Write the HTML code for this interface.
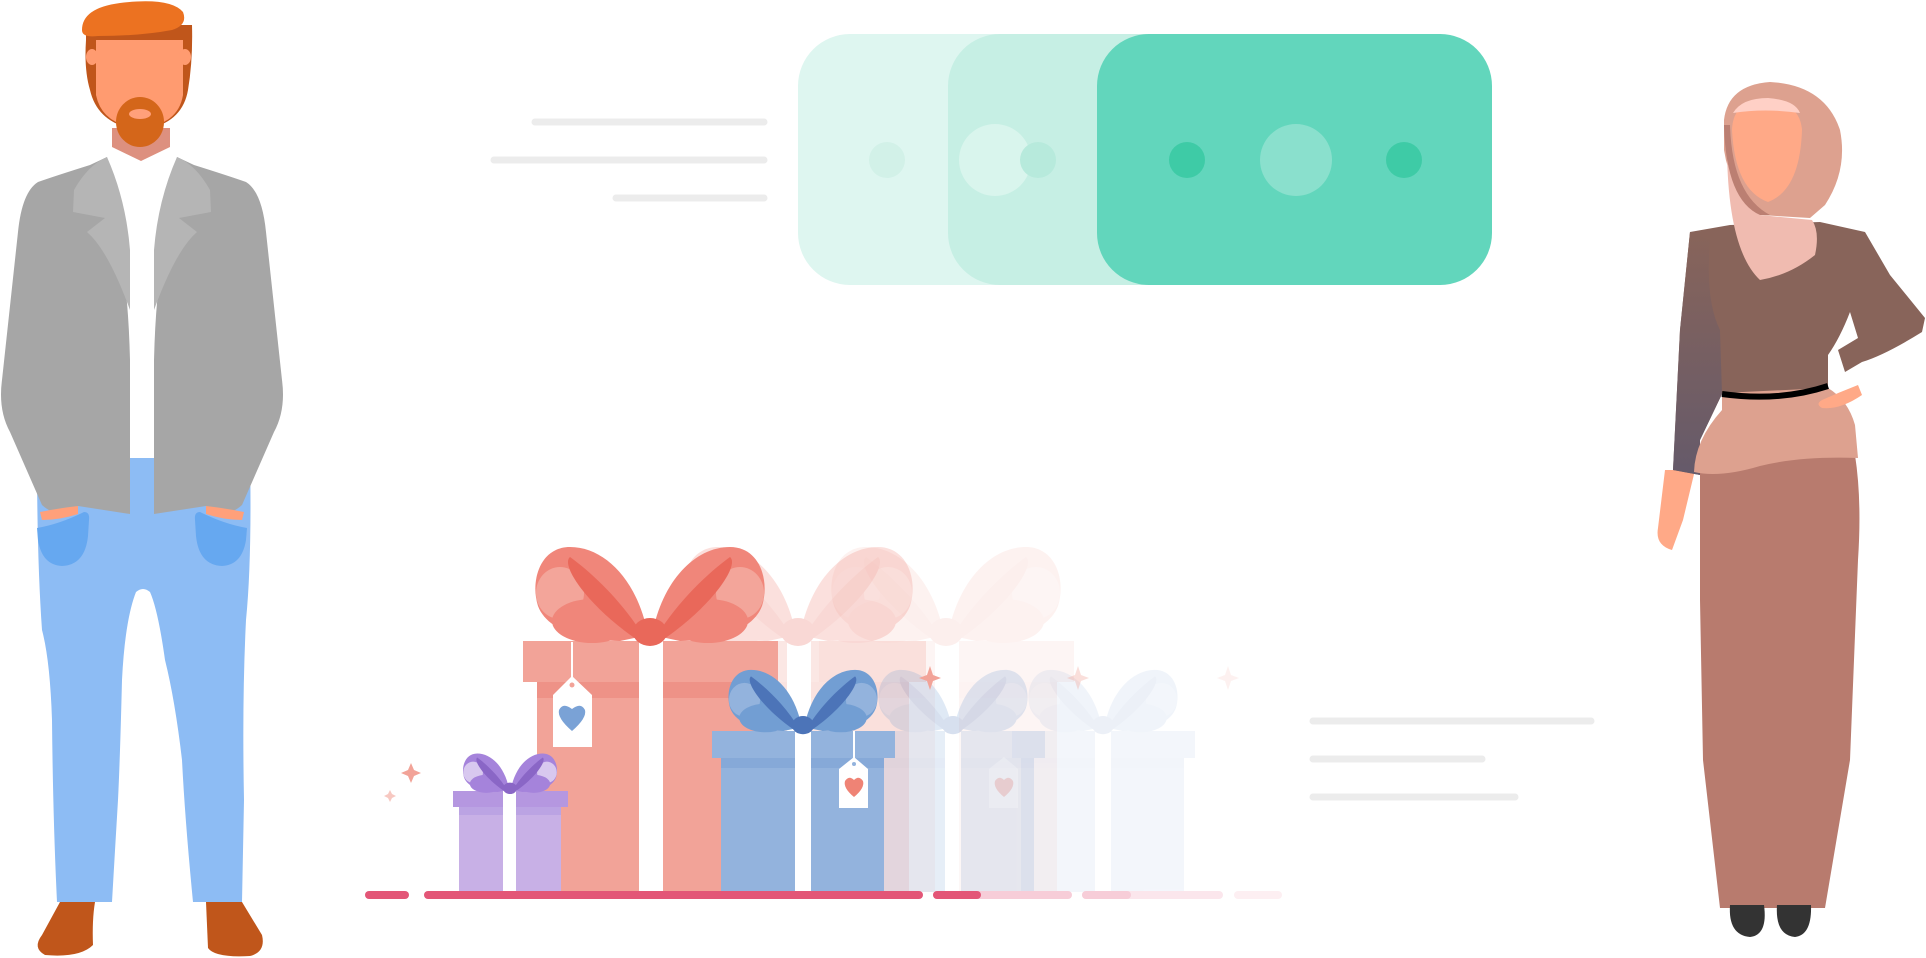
<!DOCTYPE html>
<html><head><meta charset="utf-8"><style>html,body{margin:0;padding:0;background:#fff;overflow:hidden}svg{display:block}</style></head>
<body>
<svg width="1926" height="958" viewBox="0 0 1926 958" xmlns="http://www.w3.org/2000/svg">
<defs>
<g id="bowhalf">
  <path d="M-2 -6 C-12 -60 -45 -94 -80 -94 C-110 -94 -120 -60 -112 -35 C-102 -8 -60 0 -30 0Z" style="fill:var(--m)"/>
  <ellipse cx="-90" cy="-48" rx="24" ry="26" style="fill:var(--l)"/>
  <ellipse cx="-58" cy="-20" rx="40" ry="22" style="fill:var(--m)"/>
  <path d="M-6 -4 C-28 -40 -58 -68 -80 -84 C-90 -76 -62 -35 -14 -2Z" style="fill:var(--d)"/>
</g>
<g id="bow">
  <use href="#bowhalf"/>
  <use href="#bowhalf" transform="scale(-1 1)"/>
  <ellipse cx="0" cy="-9" rx="17" ry="14" style="fill:var(--d)"/>
</g>
<g id="redgift">
  <rect x="523" y="641" width="255" height="41" fill="#f2a398"/>
  <rect x="537" y="682" width="224" height="210" fill="#f2a398"/>
  <rect x="537" y="682" width="224" height="16" fill="#ee9287"/>
  <rect x="639" y="641" width="24" height="251" fill="#fff"/>
  <use href="#bow" transform="translate(650 641)" style="--m:#f0867a;--l:#f3a59a;--d:#e9685a"/>
</g>
<g id="bluegift">
  <rect x="712" y="731" width="183" height="27" fill="#93b3dd"/>
  <rect x="721" y="758" width="163" height="134" fill="#93b3dd"/>
  <rect x="721" y="758" width="163" height="10" fill="#86a9d8"/>
  <rect x="795" y="731" width="16" height="161" fill="#fff"/>
  <use href="#bow" transform="translate(803 731) scale(0.65)" style="--m:#729ed3;--l:#93b3dd;--d:#4c74b8"/>
</g>
<g id="jacketL">
  <path d="M107 157 L90 165 Q55 176 38 182 Q22 192 18 232 L2 380 Q-2 410 10 432 L42 505 Q58 520 78 506 L130 514 L130 360 Q128 280 117 240 Z" fill="#a6a6a6"/>
  <path d="M107 157 Q88 165 74 190 L73 212 L105 218 L87 232 Q108 250 130 310 L130 250 Q126 200 107 157Z" fill="#b5b5b5"/>
  <path d="M40 512 Q60 508 78 506 L78 514 Q60 520 42 520Z" fill="#ffa07a"/>
  <path d="M37 528 Q60 524 84 512 Q90 512 89 520 L88 536 Q85 565 62 566 Q42 565 38 540Z" fill="#66a8f0"/>
</g>
</defs>

<g stroke="#ececec" stroke-width="7" stroke-linecap="round">
  <line x1="535" y1="122" x2="764" y2="122"/>
  <line x1="494" y1="160" x2="764" y2="160"/>
  <line x1="616" y1="198" x2="764" y2="198"/>
  <line x1="1313" y1="721" x2="1591" y2="721"/>
  <line x1="1313" y1="759" x2="1482" y2="759"/>
  <line x1="1313" y1="797" x2="1515" y2="797"/>
</g>

<rect x="798" y="34" width="320" height="251" rx="52" fill="#def6f0"/>
<circle cx="887" cy="160" r="18" fill="#d2f1e8"/>
<rect x="948" y="34" width="300" height="251" rx="52" fill="#c6efe4"/>
<circle cx="995" cy="160" r="36" fill="#d9f5ed"/>
<circle cx="1038" cy="160" r="18" fill="#b7eadc"/>
<rect x="1097" y="34" width="395" height="251" rx="52" fill="#62d6bc"/>
<circle cx="1187" cy="160" r="18" fill="#3ecba6"/>
<circle cx="1296" cy="160" r="36" fill="#8ae0cd"/>
<circle cx="1404" cy="160" r="18" fill="#3ecba6"/>

<use href="#redgift" transform="translate(296 0)" opacity="0.1"/>
<use href="#redgift" transform="translate(148 0)" opacity="0.25"/>
<use href="#redgift"/>
<line x1="572" y1="642" x2="572" y2="680" stroke="#fff" stroke-width="2"/>
<path d="M572 676 L592 695 L592 747 L553 747 L553 695Z" fill="#fff"/>
<circle cx="572" cy="685" r="2.5" fill="#f2a398"/>
<path d="M572 731 Q557 718 559 710 Q563 702 572 709 Q581 702 585 710 Q587 718 572 731Z" fill="#7aa2d6"/>

<use href="#bluegift" transform="translate(300 0)" opacity="0.1"/>
<use href="#bluegift" transform="translate(150 0)" opacity="0.22"/>
<use href="#bluegift"/>
<line x1="854" y1="731" x2="854" y2="760" stroke="#fff" stroke-width="2"/>
<path d="M854 757 L868 769 L868 808 L839 808 L839 769Z" fill="#fff"/>
<circle cx="854" cy="764" r="2" fill="#93b3dd"/>
<path d="M854 797 Q843 788 845 781 Q849 775 854 780 Q859 775 863 781 Q865 788 854 797Z" fill="#ef8375"/>
<g opacity="0.25"><path d="M1004 757 L1018 769 L1018 808 L989 808 L989 769Z" fill="#fff"/><path d="M1004 797 Q993 788 995 781 Q999 775 1004 780 Q1009 775 1013 781 Q1015 788 1004 797Z" fill="#ef8375"/></g>

<rect x="453" y="791" width="115" height="16" fill="#b597e0"/>
<rect x="459" y="807" width="102" height="85" fill="#c8b0e6"/>
<rect x="459" y="807" width="102" height="8" fill="#bba3e3"/>
<rect x="503" y="791" width="13" height="101" fill="#fff"/>
<use href="#bow" transform="translate(510 792) scale(0.41)" style="--m:#a583db;--l:#d8c8ef;--d:#8a66c6"/>

<g fill="#f2a398">
<path d="M411 763 L414 770 L421 773 L414 776 L411 783 L408 776 L401 773 L408 770Z"/>
<path d="M390 790 L392 794 L396 796 L392 798 L390 802 L388 798 L384 796 L388 794Z" opacity="0.6"/>
<path d="M930 666 L933 675 L941 678 L933 681 L930 690 L927 681 L919 678 L927 675Z"/>
<path d="M1078 666 L1081 675 L1089 678 L1081 681 L1078 690 L1075 681 L1067 678 L1075 675Z" opacity="0.35"/>
<path d="M1228 666 L1231 675 L1239 678 L1231 681 L1228 690 L1225 681 L1217 678 L1225 675Z" opacity="0.15"/>
</g>

<g stroke-width="8" stroke-linecap="round">
<line x1="369" y1="895" x2="405" y2="895" stroke="#e35677"/>
<line x1="428" y1="895" x2="919" y2="895" stroke="#e35677"/>
<line x1="937" y1="895" x2="1068" y2="895" stroke="#f7cdd8"/>
<line x1="937" y1="895" x2="977" y2="895" stroke="#e35677"/>
<line x1="1086" y1="895" x2="1219" y2="895" stroke="#fbe6ec"/>
<line x1="1086" y1="895" x2="1127" y2="895" stroke="#f7cdd8"/>
<line x1="1238" y1="895" x2="1278" y2="895" stroke="#fdeff2"/>
</g>

<!-- MAN -->
<path d="M37 455 L250 455 Q252 560 246 620 Q242 700 244 800 L242 902 L193 902 Q185 820 182 760 Q175 700 165 660 Q158 610 150 592 Q143 586 136 592 Q125 620 122 680 Q120 760 118 800 Q115 850 112 902 L57 902 Q53 820 52 720 Q50 660 42 630 Q37 560 37 455Z" fill="#8dbcf4"/>
<path d="M60 902 L95 902 Q92 920 93 945 Q80 958 45 955 Q32 948 42 935Z" fill="#c0561b"/>
<path d="M206 902 L242 902 L262 935 Q266 952 250 956 Q215 958 208 948Z" fill="#c0561b"/>
<path d="M108 157 L173 157 L156 458 L130 458Z" fill="#fff"/>
<path d="M112 128 L170 128 L170 147 L141 161 L112 147Z" fill="#dd907f"/>
<use href="#jacketL"/>
<use href="#jacketL" transform="translate(284 0) scale(-1 1)"/>
<path d="M86 40 Q84 70 90 90 Q98 125 140 130 Q182 125 188 90 Q193 60 192 25 L86 25Z" fill="#c0561b"/>
<path d="M96 40 L183 40 L183 95 Q178 125 140 128 Q102 125 96 95Z" fill="#ff9b70"/>
<ellipse cx="92" cy="57" rx="6" ry="8" fill="#ff9b70"/>
<ellipse cx="185" cy="57" rx="6" ry="8" fill="#ff9b70"/>
<path d="M82 30 Q82 8 120 3 Q170 -3 183 12 Q188 25 172 30 Q140 36 98 36 Q82 38 82 30Z" fill="#ec7221"/>
<ellipse cx="140" cy="122" rx="24" ry="25" fill="#d4661a"/>
<ellipse cx="140" cy="114" rx="11" ry="5" fill="#ffa07a"/>

<!-- WOMAN -->
<path d="M1700 458 L1855 455 Q1862 500 1858 560 L1850 760 L1825 908 L1720 908 L1703 760 L1700 600Z" fill="#b87b6e"/>
<path d="M1730 905 L1764 905 Q1768 935 1750 937 Q1728 935 1730 905Z" fill="#333"/>
<path d="M1777 905 L1811 905 Q1812 935 1795 937 Q1775 935 1777 905Z" fill="#333"/>
<path d="M1665 470 L1695 470 L1683 520 L1672 550 Q1655 545 1658 528Z" fill="#ffa987"/>
<defs><linearGradient id="arm" x1="0" y1="0" x2="0" y2="1"><stop offset="0" stop-color="#88645a"/><stop offset="1" stop-color="#655a6a"/></linearGradient></defs>
<path d="M1690 232 L1730 225 L1820 222 L1865 232 L1890 275 L1925 318 L1922 332 Q1885 355 1862 362 L1845 372 L1838 350 L1858 338 L1850 312 Q1840 338 1828 355 L1828 390 L1722 394 L1700 440 L1700 475 L1673 470 L1680 330Z" fill="#88645a"/>
<path d="M1690 232 L1710 240 Q1705 300 1720 330 L1722 394 L1700 440 L1700 475 L1673 470 L1680 330Z" fill="url(#arm)"/>
<path d="M1722 393 L1828 388 Q1848 400 1855 425 L1858 458 Q1800 456 1760 466 Q1720 478 1694 472 Q1695 440 1722 410Z" fill="#dda18f"/>
<path d="M1722 394 Q1780 402 1828 386" stroke="#000" stroke-width="6" fill="none"/>
<path d="M1822 400 Q1840 392 1858 385 L1862 395 Q1840 410 1822 408 Q1815 404 1822 400Z" fill="#ffa987"/>
<path d="M1724 120 Q1728 85 1770 82 Q1825 85 1840 130 Q1848 170 1825 205 L1810 218 L1760 215 Q1730 190 1724 150Z" fill="#dda18f"/>
<path d="M1727 150 Q1728 250 1760 280 Q1790 275 1815 255 Q1820 232 1812 220 L1760 215 Q1735 200 1727 150Z" fill="#f0bbb0"/>
<path d="M1724 125 Q1726 200 1760 215 L1770 215 Q1732 195 1730 125Z" fill="#bb7f72"/>
<path d="M1732 130 Q1733 100 1765 100 Q1800 102 1802 130 Q1800 190 1768 202 Q1735 190 1732 130Z" fill="#ffa987"/>
<path d="M1733 113 Q1742 98 1768 98 Q1795 100 1800 113 Q1765 108 1733 113Z" fill="#ffd0c6"/>
</svg>
</body></html>
